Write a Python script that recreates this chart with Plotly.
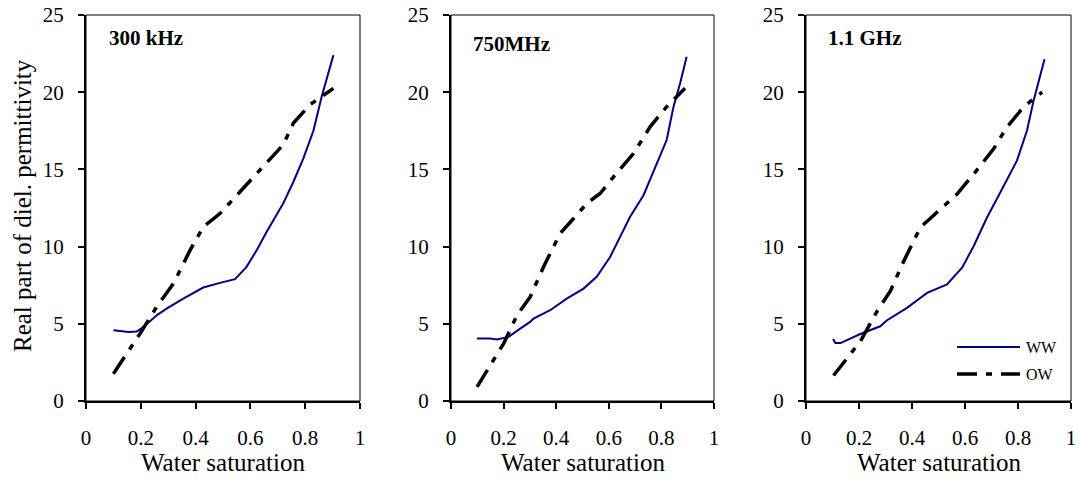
import plotly.graph_objects as go

# ---- data ----
ww1_x = [0.10, 0.155, 0.185, 0.21, 0.258, 0.294, 0.355, 0.428, 0.489, 0.544, 0.586, 0.623, 0.659, 0.72, 0.757, 0.793, 0.83, 0.86, 0.903]
ww1_y = [4.58, 4.47, 4.50, 4.80, 5.55, 5.98, 6.63, 7.35, 7.65, 7.89, 8.69, 9.77, 10.95, 12.8, 14.2, 15.7, 17.5, 19.7, 22.4]
ow1_x = [0.10, 0.197, 0.258, 0.319, 0.38, 0.428, 0.489, 0.55, 0.61, 0.684, 0.72, 0.757, 0.818, 0.903]
ow1_y = [1.77, 4.36, 6.10, 7.60, 9.77, 11.28, 12.14, 13.33, 14.5, 15.9, 16.6, 18.0, 19.2, 20.25]

ww2_x = [0.099, 0.149, 0.175, 0.219, 0.263, 0.301, 0.314, 0.377, 0.44, 0.504, 0.554, 0.605, 0.643, 0.681, 0.732, 0.782, 0.82, 0.846, 0.871, 0.896]
ww2_y = [4.04, 4.04, 3.98, 4.15, 4.69, 5.12, 5.34, 5.88, 6.63, 7.28, 8.04, 9.33, 10.63, 11.93, 13.33, 15.38, 16.9, 19.06, 20.57, 22.3]
ow2_x = [0.099, 0.20, 0.251, 0.301, 0.352, 0.415, 0.466, 0.516, 0.567, 0.618, 0.694, 0.757, 0.82, 0.89]
ow2_y = [0.91, 3.72, 5.55, 6.74, 8.69, 10.85, 11.82, 12.79, 13.44, 14.52, 16.03, 17.76, 19.06, 20.25]

ww3_x = [0.102, 0.111, 0.13, 0.205, 0.28, 0.306, 0.381, 0.457, 0.532, 0.589, 0.633, 0.683, 0.733, 0.796, 0.834, 0.859, 0.90]
ww3_y = [4.01, 3.75, 3.75, 4.34, 4.84, 5.23, 6.03, 7.0, 7.55, 8.63, 10.04, 11.88, 13.5, 15.57, 17.52, 19.47, 22.14]
ow3_x = [0.104, 0.205, 0.268, 0.318, 0.369, 0.431, 0.507, 0.57, 0.633, 0.708, 0.758, 0.821, 0.891]
ow3_y = [1.65, 3.86, 5.81, 7.11, 9.06, 11.23, 12.42, 13.4, 14.7, 16.33, 17.74, 19.04, 20.01]

panel_labels = ["300 kHz", "750MHz", "1.1 GHz"]
x_title = "Water saturation"
y_title = "Real part of diel. permittivity"
series_names = ["WW", "OW"]
x_tickvals = [0, 0.2, 0.4, 0.6, 0.8, 1]
x_ticktext = ["0", "0.2", "0.4", "0.6", "0.8", "1"]
y_tickvals = [0, 5, 10, 15, 20, 25]

W, H = 1078, 479
FONT = "Liberation Serif"
BLUE = "#00008B"
DASH = "20px,9px,6px,9px"

x_px = [(86, 360), (451, 714), (806, 1071)]
y_dom = [1 - 401 / H, 1 - 15 / H]

data = [(ww1_x, ww1_y, ow1_x, ow1_y), (ww2_x, ww2_y, ow2_x, ow2_y), (ww3_x, ww3_y, ow3_x, ow3_y)]

fig = go.Figure()
layout = {}
shapes = []
annotations = []
for i, (wx, wy, ox, oy) in enumerate(data):
    n = i + 1
    xs = "" if n == 1 else str(n)
    fig.add_trace(go.Scatter(x=wx, y=wy, mode="lines", name=series_names[0],
                             line=dict(color=BLUE, width=2), xaxis="x" + xs, yaxis="y" + xs,
                             showlegend=False))
    fig.add_trace(go.Scatter(x=ox, y=oy, mode="lines", name=series_names[1],
                             line=dict(color="black", width=3.5, dash=DASH), xaxis="x" + xs, yaxis="y" + xs,
                             showlegend=False))
    dom = [x_px[i][0] / W, x_px[i][1] / W]
    layout["xaxis" + xs] = dict(domain=dom, range=[0, 1], anchor="y" + xs, tickvals=x_tickvals, ticktext=x_ticktext,
                                ticks="outside", ticklen=6, tickwidth=1.5, tickcolor="black", automargin=False,
                                showline=True, linewidth=2, linecolor="black", showgrid=False, zeroline=False,
                                tickfont=dict(family=FONT, size=21, color="black"), ticklabelstandoff=11,
                                ticklabeloverflow="allow")
    layout["yaxis" + xs] = dict(domain=y_dom, range=[0, 25], anchor="x" + xs, tickvals=y_tickvals,
                                ticks="outside", ticklen=6, tickwidth=1.5, tickcolor="black", automargin=False,
                                showline=True, linewidth=2, linecolor="black", showgrid=False, zeroline=False,
                                tickfont=dict(family=FONT, size=21, color="black"), ticklabelstandoff=10,
                                ticklabeloverflow="allow")
    on = n + 3
    layout["xaxis%d" % on] = dict(domain=dom, range=[0, 1], anchor="y" + xs, overlaying="x" + xs, dtick=0.1, tick0=0,
                                  ticks="inside", ticklen=6, tickwidth=1.5, tickcolor="black", showticklabels=False,
                                  showline=False, showgrid=False, zeroline=False, side="bottom", automargin=False)
    layout["yaxis%d" % on] = dict(domain=y_dom, range=[0, 25], anchor="x" + xs, overlaying="y" + xs, dtick=2.5, tick0=0,
                                  ticks="inside", ticklen=5, tickwidth=1.5, tickcolor="black", showticklabels=False,
                                  showline=False, showgrid=False, zeroline=False, side="left", automargin=False)
    shapes.append(dict(type="rect", xref="x" + xs + " domain", yref="y" + xs + " domain", x0=0, x1=1, y0=0, y1=1,
                       line=dict(color="black", width=1)))
    annotations.append(dict(text="<b>%s</b>" % panel_labels[i], xref="x" + xs + " domain", yref="y" + xs + " domain",
                            x=0.075, y=0.94 if n != 2 else 0.925, xanchor="left", yanchor="middle", showarrow=False,
                            font=dict(family=FONT, size=21, color="black")))
    annotations.append(dict(text=x_title, xref="x" + xs + " domain", yref="paper", x=0.5, y=1 - 462 / H,
                            xanchor="center", yanchor="middle", showarrow=False,
                            font=dict(family=FONT, size=25, color="black")))

annotations.append(dict(text=y_title, xref="paper", yref="paper", x=22 / W, y=1 - 206 / H, textangle=-90,
                        xanchor="center", yanchor="middle", showarrow=False,
                        font=dict(family=FONT, size=25, color="black")))

leg = [(series_names[0], 347, dict(color=BLUE, width=2)), (series_names[1], 374, dict(color="black", width=3.5, dash=DASH))]
for name, ypix, ln in leg:
    shapes.append(dict(type="line", xref="paper", yref="paper", x0=957 / W, x1=1020 / W, y0=1 - ypix / H, y1=1 - ypix / H,
                       line=ln))
    annotations.append(dict(text=name, xref="paper", yref="paper", x=1024 / W, y=1 - ypix / H, xanchor="left",
                            yanchor="middle", showarrow=False, font=dict(family=FONT, size=16, color="black")))

fig.update_layout(**layout)
fig.update_layout(width=W, height=H, margin=dict(l=0, r=0, t=0, b=0, autoexpand=False), paper_bgcolor="white",
                  plot_bgcolor="white", font=dict(family=FONT, color="black"),
                  shapes=shapes, annotations=annotations, showlegend=False)
fig.write_html("out.html", config={"displayModeBar": False},
               post_script="document.body.style.margin='0';document.body.style.overflow='hidden';")
